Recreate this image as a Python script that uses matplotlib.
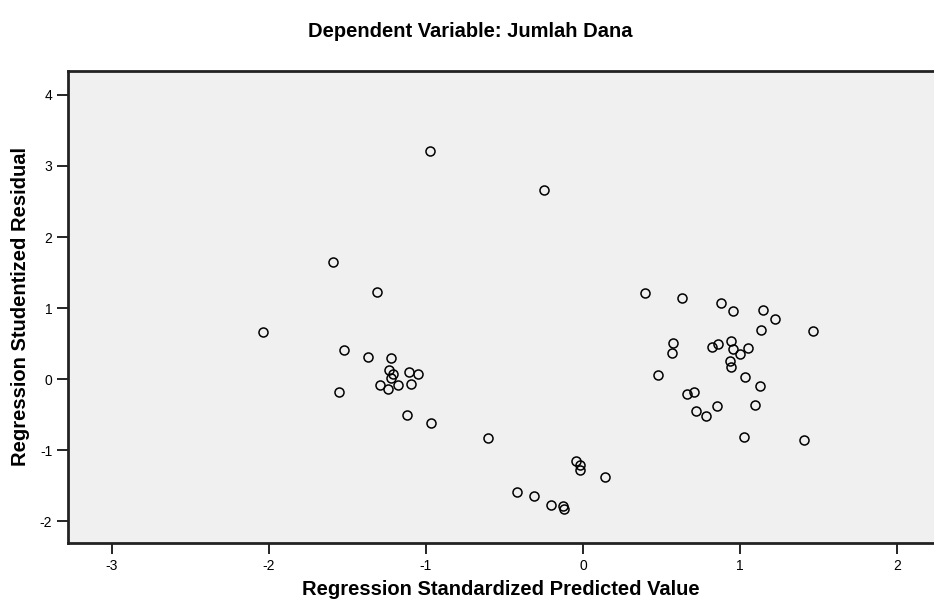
import matplotlib.pyplot as plt

# predicted value (x) / studentized residual (y)
x_pred = [-1.589, -1.313, -2.039, -1.521, -1.367, -1.220, -1.233, -1.210, -1.222,
          -1.108, -1.048, -1.292, -1.239, -1.175, -1.095, -1.553, -1.120, -0.965,
          -0.974, -0.248, -0.603, -0.045, -0.019, -0.019, 0.138, -0.418, -0.310,
          -0.206, -0.125, -0.120,
          0.395, 0.632, 0.878, 0.957, 1.148, 1.224, 1.131, 1.462, 0.575, 0.565,
          0.819, 0.861, 0.940, 0.957, 0.999, 1.048, 0.936, 0.942, 0.475, 1.033,
          1.127, 0.664, 0.707, 0.719, 0.783, 0.851, 1.097, 1.025, 1.409]
y_resid = [1.654, 1.223, 0.670, 0.408, 0.309, 0.300, 0.131, 0.080, 0.014,
           0.107, 0.070, -0.080, -0.136, -0.080, -0.066, -0.174, -0.502, -0.619,
           3.210, 2.662, -0.830, -1.145, -1.205, -1.276, -1.370, -1.581, -1.637,
           -1.768, -1.782, -1.830,
           1.209, 1.148, 1.069, 0.965, 0.975, 0.853, 0.693, 0.675, 0.515, 0.374,
           0.450, 0.496, 0.543, 0.422, 0.356, 0.436, 0.262, 0.169, 0.060, 0.037,
           -0.094, -0.211, -0.174, -0.441, -0.516, -0.376, -0.361, -0.807, -0.854]

x_ticks = [-3, -2, -1, 0, 1, 2]
y_ticks = [-2, -1, 0, 1, 2, 3, 4]

plt.rcParams['font.family'] = ['Liberation Sans', 'DejaVu Sans']
plt.rcParams['axes.unicode_minus'] = False

fig = plt.figure(figsize=(9.34, 6.09), dpi=100)
ax = fig.add_axes([0.0731, 0.1079, 0.9269, 0.7760])
ax.set_facecolor('#f0f0f0')

ax.plot(x_pred, y_resid, 'o', markersize=6.5, markerfacecolor='none',
        markeredgecolor='black', markeredgewidth=1.1)

ax.set_xlim(-3.276, 2.234)
ax.set_ylim(-2.307, 4.34)
ax.set_xticks(x_ticks)
ax.set_yticks(y_ticks)
ax.tick_params(direction='out', length=8, width=1.2, labelsize=10)

for side in ['left', 'top', 'bottom']:
    ax.spines[side].set_linewidth(2)
    ax.spines[side].set_color('#222222')
ax.spines['right'].set_visible(False)

ax.set_xlabel("Regression Standardized Predicted Value", fontsize=14.5,
              fontweight='bold', labelpad=5)
ax.set_ylabel("Regression Studentized Residual", fontsize=14.5,
              fontweight='bold', labelpad=7)
fig.text(0.503, 0.948, "Dependent Variable: Jumlah Dana",
         ha='center', va='center', fontsize=14.5, fontweight='bold')

fig.savefig("out.png", dpi=100)
